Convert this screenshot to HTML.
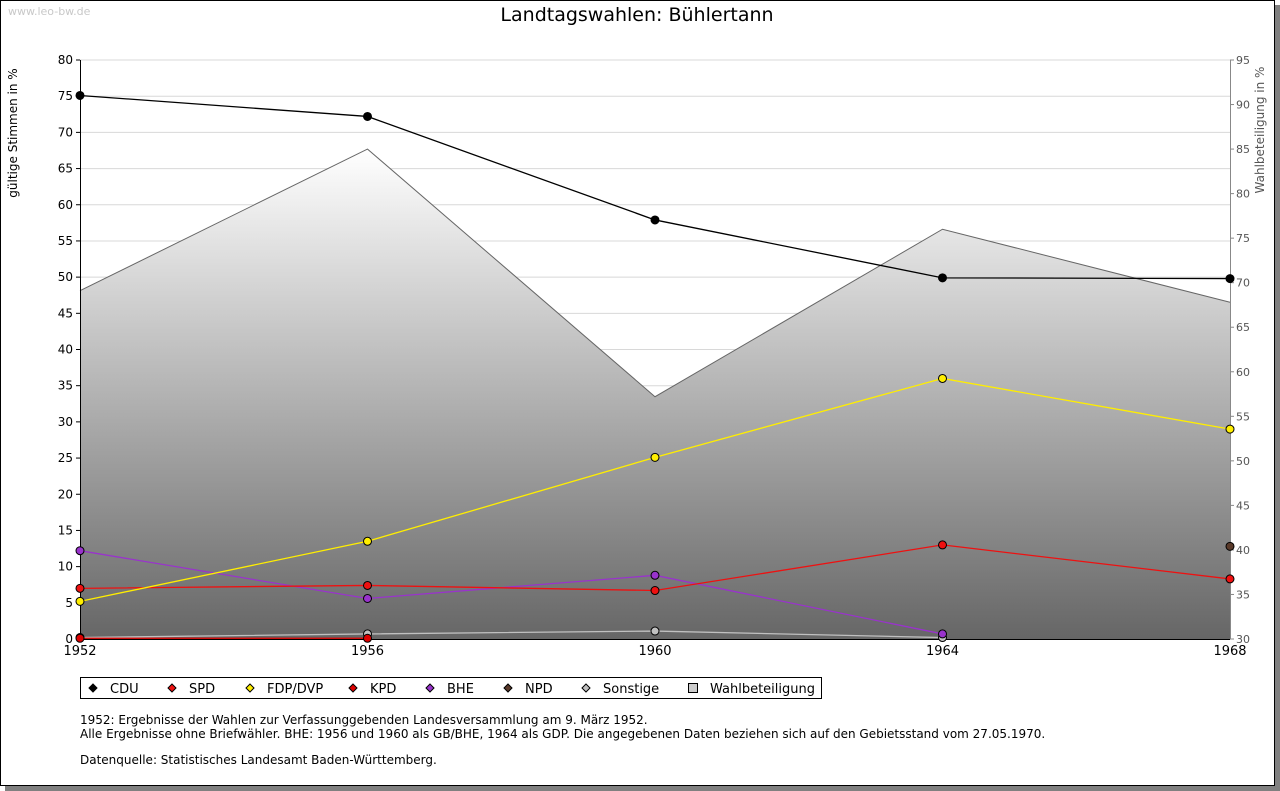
<!DOCTYPE html>
<html><head><meta charset="utf-8"><style>
body{margin:0;background:#fff;font-family:"DejaVu Sans",sans-serif}
svg{display:block}
</style></head><body>
<svg id="c" width="1280" height="791" xmlns="http://www.w3.org/2000/svg" font-family="'DejaVu Sans',sans-serif">
<defs><linearGradient id="g" x1="0" y1="0" x2="0" y2="1"><stop offset="0" stop-color="#ffffff"/><stop offset="1" stop-color="#666666"/></linearGradient></defs>
<rect x="5" y="5" width="1275" height="786" fill="#808080"/>
<rect x="0.5" y="0.5" width="1274" height="785" fill="#fff" stroke="#000"/>
<text x="8" y="15" font-size="11" fill="#c8c8c8">www.leo-bw.de</text>
<text x="637" y="21" font-size="19" text-anchor="middle">Landtagswahlen: Bühlertann</text>
<text transform="translate(17,133) rotate(-90)" font-size="12" text-anchor="middle">gültige Stimmen in %</text>
<text transform="translate(1264,130) rotate(-90)" font-size="12" fill="#555" text-anchor="middle">Wahlbeteiligung in %</text>
<g id="grid"></g><g id="area"></g><g id="axes"></g><g id="series"></g>
<g>
<rect x="80.5" y="677.5" width="741" height="21" fill="#fff" stroke="#000"/>
<g id="leg"></g>
</g>
<g font-size="12">
<text x="80" y="724">1952: Ergebnisse der Wahlen zur Verfassunggebenden Landesversammlung am 9. März 1952.</text>
<text x="80" y="738">Alle Ergebnisse ohne Briefwähler. BHE: 1956 und 1960 als GB/BHE, 1964 als GDP. Die angegebenen Daten beziehen sich auf den Gebietsstand vom 27.05.1970.</text>
<text x="80" y="764">Datenquelle: Statistisches Landesamt Baden-Württemberg.</text>
</g>
</svg>
<script>
const years=[1952,1956,1960,1964,1968];
const cdu=[75.1,72.2,57.9,49.9,49.8];
const spd=[7.0,7.4,6.7,13.0,8.3];
const fdp=[5.2,13.5,25.1,36.0,29.0];
const kpd=[0.1,0.1,null,null,null];
const bhe=[12.2,5.6,8.8,0.7,null];
const npd=[null,null,null,null,12.8];
const sonst=[0.2,0.7,1.1,0.2,null];
const turnout=[69.1,85.0,57.2,76.0,67.8];
const leftTicks=[0,5,10,15,20,25,30,35,40,45,50,55,60,65,70,75,80];
const rightTicks=[30,35,40,45,50,55,60,65,70,75,80,85,90,95];
const NS='http://www.w3.org/2000/svg';
const X0=80,X1=1230,Y0=639,Y1=60;
const xs=i=>X0+(X1-X0)*i/(years.length-1);
const yl=v=>Y0-(v-0)/(80)*(Y0-Y1);
const yr=v=>Y0-(v-30)/(65)*(Y0-Y1);
function el(t,a,p){const e=document.createElementNS(NS,t);for(const k in a)e.setAttribute(k,a[k]);document.getElementById(p).appendChild(e);return e;}
leftTicks.forEach(v=>{const g=el('line',{x1:X0,x2:X1,y1:yl(v),y2:yl(v),stroke:'#d8d8d8'},'grid');


const t=el('text',{x:73,y:yl(v)+4,'font-size':12,'text-anchor':'end'},'axes');t.textContent=v;


el('line',{x1:X0-4,x2:X0,y1:yl(v),y2:yl(v),stroke:'#000'},'axes');});
rightTicks.forEach(v=>{const t=el('text',{x:1236,y:yr(v)+4,'font-size':11,fill:'#555'},'axes');t.textContent=v;


el('line',{x1:X1,x2:X1+4,y1:yr(v),y2:yr(v),stroke:'#888'},'axes');});
let d='M'+X0+','+Y0;turnout.forEach((v,i)=>d+=' L'+xs(i)+','+yr(v));d+=' L'+X1+','+Y0+' Z';
const a=el('path',{d:d,fill:'url(#g)'},'area');


const al=el('polyline',{points:turnout.map((v,i)=>xs(i)+','+yr(v)).join(' '),fill:'none',stroke:'#666'},'area');


el('line',{x1:X0+.5,x2:X0+.5,y1:Y1,y2:Y0,stroke:'#000'},'axes');
el('line',{x1:X1+.5,x2:X1+.5,y1:Y1,y2:Y0,stroke:'#888'},'axes');
el('line',{x1:X0,x2:X1,y1:Y0+.5,y2:Y0+.5,stroke:'#000'},'axes');
years.forEach((y,i)=>{const t=el('text',{x:xs(i),y:655,'font-size':13,'text-anchor':'middle'},'axes');t.textContent=y;

});
function series(vals,col,name){const pts=[];vals.forEach((v,i)=>{if(v!==null)pts.push([xs(i),yl(v)]);});
if(pts.length>1){const l=el('polyline',{points:pts.map(p=>p.join(',')).join(' '),fill:'none',stroke:col,'stroke-width':1.3},'series');

}
pts.forEach(p=>{const m=el('circle',{cx:p[0],cy:p[1],r:4,fill:col,stroke:'#000','stroke-width':1},'series');

});}
series(sonst,'#c0c0c0','sonstige');
series(kpd,'#dd0000','kpd');
series(bhe,'#9933cc','bhe');
series(spd,'#ee1111','spd');
series(fdp,'#ffee00','fdp');
series(npd,'#5a3a2a','npd');
series(cdu,'#000000','cdu');
const legN=['CDU','SPD','FDP/DVP','KPD','BHE','NPD','Sonstige','Wahlbeteiligung'];
const legC=['#000','#ee1111','#ffee00','#dd0000','#9933cc','#5a3a2a','#c0c0c0','#ccc'];
const legX=[93,172,250,353,430,508,586,693];
legN.forEach((n,i)=>{const x=legX[i],y=688;
if(i<7){el('path',{d:`M${x},${y-4}L${x+4},${y}L${x},${y+4}L${x-4},${y}Z`,fill:legC[i],stroke:'#000'},'leg');}
else{el('rect',{x:x-4.5,y:y-4.5,width:9,height:9,fill:'#ccc',stroke:'#000'},'leg');}
const t=el('text',{x:x+17,y:y+5,'font-size':13},'leg');t.textContent=n;

});
</script>
</body></html>
